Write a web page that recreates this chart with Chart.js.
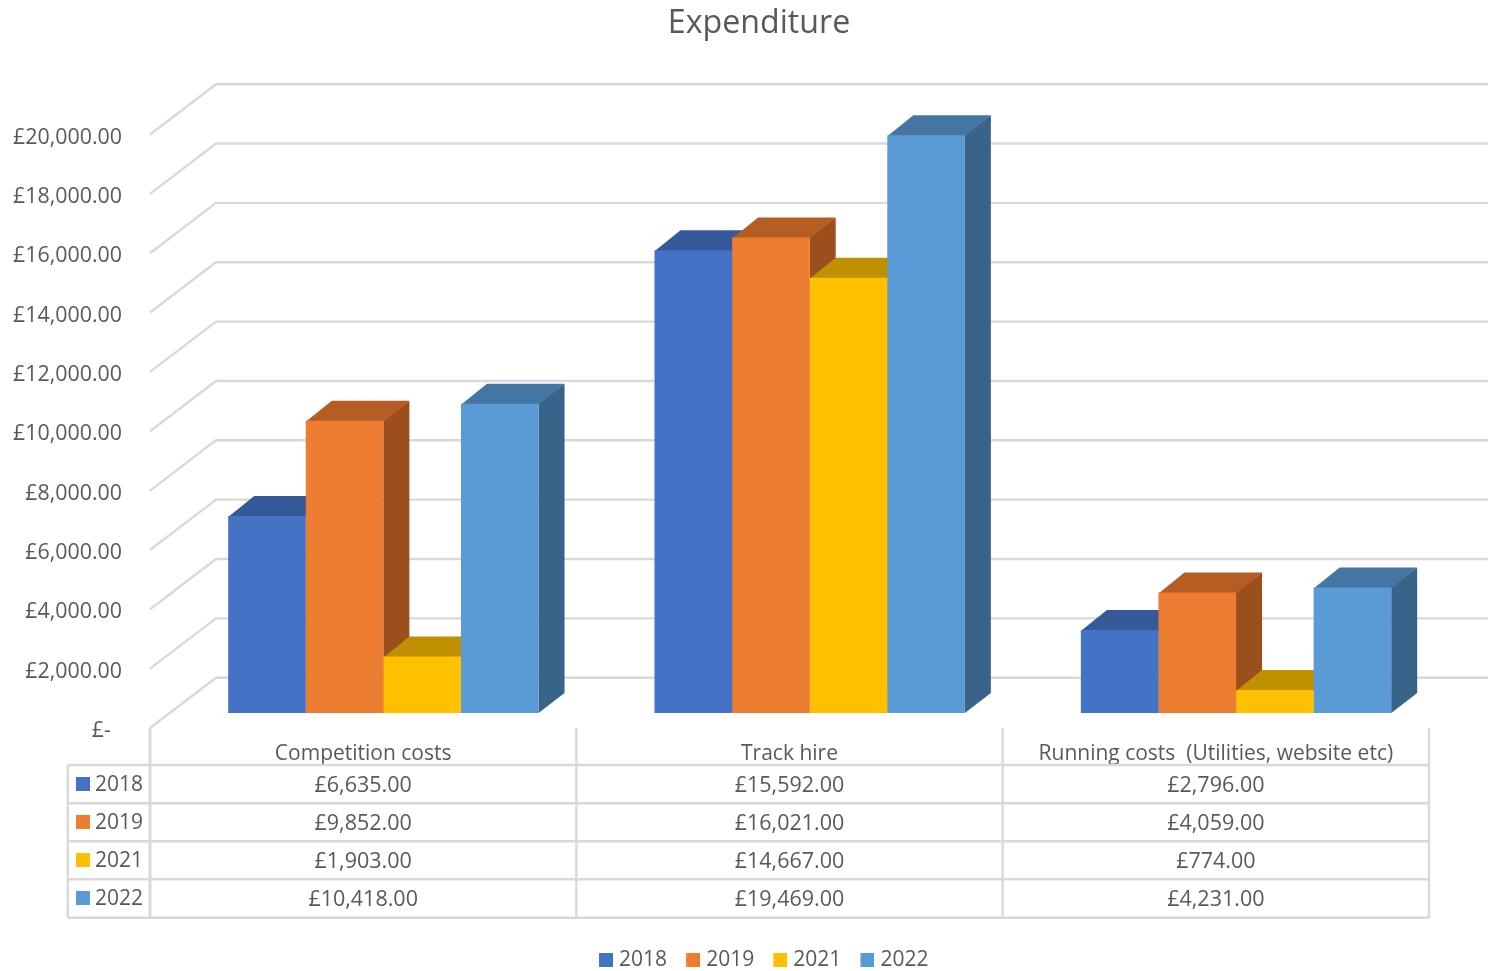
<!DOCTYPE html>
<html>
<head>
<meta charset="utf-8">
<title>Expenditure</title>
<script src="https://cdn.jsdelivr.net/npm/chart.js@4/dist/chart.umd.min.js"></script>
<style>html,body{margin:0;padding:0;background:#fff;overflow:hidden}canvas{display:block}</style>
</head>
<body>
<canvas id="c" width="1488" height="971"></canvas>
<script>
const categories = ['Competition costs', 'Track hire', 'Running costs  (Utilities, website etc)'];
const seriesNames = ['2018', '2019', '2021', '2022'];
const values2018 = [6635, 15592, 2796];
const values2019 = [9852, 16021, 4059];
const values2021 = [1903, 14667, 774];
const values2022 = [10418, 19469, 4231];
const seriesValues = [values2018, values2019, values2021, values2022];
const seriesColors = ['#4472c4', '#ed7d31', '#ffc000', '#5b9bd5'];
const seriesTops = ['#355a99', '#b55d23', '#c09000', '#4575a2'];
const seriesSides = ['#2f4f87', '#9a4f1d', '#a67c00', '#376488'];

const FONT = '"Open Sans", sans-serif';
const TEXT = '#595959', LINE = '#d9d9d9';
const DX = 26, DY = 20;           // 3D depth of the bars
const WALL_DX = 66, WALL_BACK = 35.3, WALL_FRONT = 15;
const PLOT_TOP = 119.5, PLOT_BOTTOM = 713;
const PLOT_LEFT = 170.2;
const FRONT_OFFSET = 20.2;
const ROWS = [765, 803.3, 841.3, 879.3, 917.7];
const TABLE_LEFT = 67.7;

const money = v => '£' + v.toLocaleString('en-GB', {minimumFractionDigits: 2, maximumFractionDigits: 2});

function swatch(color) {
  const s = document.createElement('canvas');
  s.width = 19; s.height = 14;
  const g = s.getContext('2d');
  g.fillStyle = color;
  g.fillRect(5, 0, 14, 14);
  return s;
}

function poly(ctx, pts, fill) {
  ctx.beginPath();
  pts.forEach((p, i) => i ? ctx.lineTo(p[0], p[1]) : ctx.moveTo(p[0], p[1]));
  ctx.closePath();
  ctx.fillStyle = fill;
  ctx.fill();
}

const scene3d = {
  id: 'scene3d',
  afterLayout(chart) {
    const t = chart.titleBlock;
    t.left += 34.4; t.right += 34.4;
    const lg = chart.legend;
    const shift = 38.9;
    lg.left += shift; lg.right += shift;
    const h = lg.height;
    lg.top = 956 - h / 2; lg.bottom = lg.top + h;
  },
  beforeDatasetsDraw(chart) {
    const ctx = chart.ctx, y = chart.scales.y, a = chart.chartArea;
    const frontX = a.left - FRONT_OFFSET, backX = frontX + WALL_DX;
    ctx.save();
    ctx.strokeStyle = LINE;
    ctx.lineWidth = 2.4;
    y.ticks.forEach(t => {
      const py = y.getPixelForValue(t.value);
      ctx.beginPath();
      ctx.moveTo(frontX, py + WALL_FRONT);
      ctx.lineTo(backX, py - WALL_BACK);
      ctx.lineTo(chart.width, py - WALL_BACK);
      ctx.stroke();
    });
    // side and top faces, painted left to right, under the library's front faces
    categories.forEach((_, c) => {
      seriesNames.forEach((_, s) => {
        const b = chart.getDatasetMeta(s).data[c];
        const l = b.x - b.width / 2, r = b.x + b.width / 2;
        poly(ctx, [[r, b.base], [r + DX, b.base - DY], [r + DX, b.y - DY], [r, b.y]], seriesSides[s]);
        poly(ctx, [[l, b.y + 1], [l + DX, b.y - DY], [r + DX, b.y - DY], [r, b.y + 1]], seriesTops[s]);
      });
    });
    ctx.restore();
  },
  afterDatasetsDraw(chart) {
    const ctx = chart.ctx, x = chart.scales.x, a = chart.chartArea;
    const cw = x.getPixelForValue(1) - x.getPixelForValue(0);
    const edges = categories.map((_, i) => x.getPixelForValue(i) - cw / 2 - FRONT_OFFSET);
    edges.push(edges[edges.length - 1] + cw);
    const right = edges[edges.length - 1];
    const top = a.bottom + WALL_FRONT;
    ctx.save();
    ctx.strokeStyle = LINE;
    ctx.lineWidth = 2.4;
    ROWS.forEach(r => {
      ctx.beginPath(); ctx.moveTo(TABLE_LEFT, r); ctx.lineTo(right, r); ctx.stroke();
    });
    ctx.beginPath(); ctx.moveTo(TABLE_LEFT, ROWS[0]); ctx.lineTo(TABLE_LEFT, ROWS[4]); ctx.stroke();
    edges.forEach((e, i) => {
      ctx.lineWidth = i === 0 ? 3 : 2.4;
      ctx.beginPath(); ctx.moveTo(e, top); ctx.lineTo(e, ROWS[4]); ctx.stroke();
    });
    ctx.fillStyle = TEXT;
    ctx.textBaseline = 'middle';
    seriesNames.forEach((name, s) => {
      const cy = (ROWS[s] + ROWS[s + 1]) / 2;
      ctx.fillStyle = seriesColors[s];
      ctx.fillRect(76, Math.round(cy - 7.6), 14, 14);
      ctx.fillStyle = TEXT;
      ctx.font = '21px ' + FONT;
      ctx.textAlign = 'left';
      ctx.fillText(name, 95, cy + 0.5);
      ctx.font = '21.5px ' + FONT;
      ctx.textAlign = 'center';
      seriesValues[s].forEach((v, c) => {
        ctx.fillText(money(v), edges[c] + cw / 2, cy + 1.5);
      });
    });
    ctx.restore();
  }
};

new Chart(document.getElementById('c'), {
  type: 'bar',
  plugins: [scene3d],
  data: {
    labels: categories,
    datasets: seriesNames.map((n, i) => ({
      label: n,
      data: seriesValues[i],
      backgroundColor: seriesColors[i],
      borderWidth: 0,
      categoryPercentage: 0.728,
      barPercentage: 1
    }))
  },
  options: {
    responsive: false,
    animation: false,
    layout: {padding: {left: 0, right: 38.8, top: 0, bottom: 0}},
    font: {family: FONT},
    scales: {
      x: {
        grid: {display: false},
        border: {display: false},
        ticks: {
          color: TEXT, font: {family: FONT, size: 21},
          autoSkip: false, maxRotation: 0, minRotation: 0,
          labelOffset: -FRONT_OFFSET, padding: 20
        },
        afterFit(s) { s.height = 971 - PLOT_BOTTOM - s.chart.legend.height; }
      },
      y: {
        min: 0, max: 20000,
        grid: {display: false},
        border: {display: false},
        ticks: {
          stepSize: 2000,
          color: TEXT, font: {family: FONT, size: 21.4},
          labelOffset: 18, padding: 40.2,
          callback: v => v === 0 ? '£-\u00a0\u00a0' : money(v)
        },
        afterFit(s) { s.width = PLOT_LEFT; }
      }
    },
    plugins: {
      tooltip: {enabled: false},
      title: {
        display: true, text: 'Expenditure', color: TEXT,
        font: {family: FONT, size: 32.2, weight: 'normal'},
        padding: {top: 5, bottom: PLOT_TOP - 5 - 38.64}
      },
      legend: {
        position: 'bottom',
        labels: {
          color: TEXT, font: {family: FONT, size: 21},
          boxWidth: 10, boxHeight: 14, padding: 18.6,
          usePointStyle: true,
          generateLabels: chart => chart.data.datasets.map((d, i) => ({
            text: d.label, fillStyle: d.backgroundColor, strokeStyle: d.backgroundColor,
            lineWidth: 0, pointStyle: swatch(d.backgroundColor), datasetIndex: i,
            fontColor: TEXT
          }))
        }
      }
    }
  }
});
</script>
</body>
</html>
